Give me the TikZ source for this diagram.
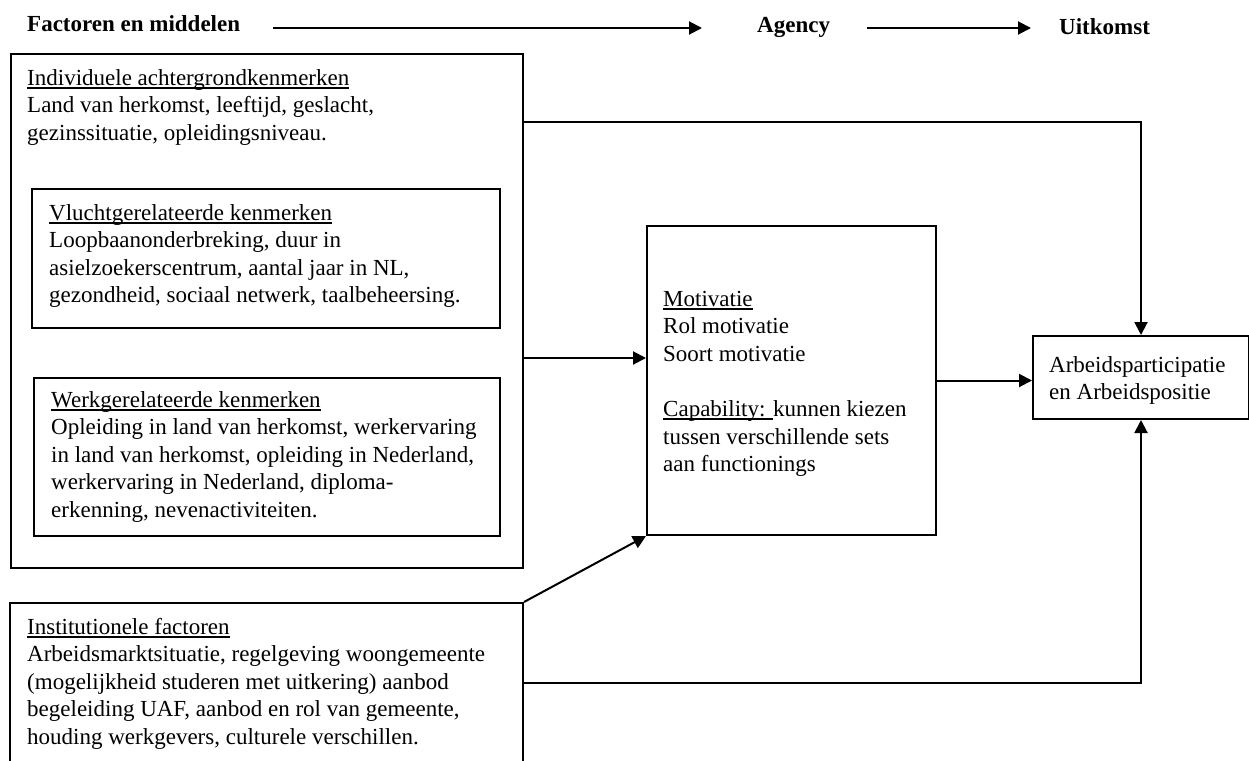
\documentclass[tikz,border=0pt]{standalone}
\usepackage{fontspec}
\setmainfont{Liberation Serif}
\usetikzlibrary{arrows.meta}
\newcommand\myul[1]{\setbox0\hbox{#1}\rlap{\rule[-3.5pt]{\wd0}{1.6pt}}\box0}
\tikzset{
  box/.style={draw, line width=2pt, inner sep=0pt, anchor=north west},
  txt/.style={anchor=base west, align=left, inner sep=0pt, font=\fontsize{23}{27.6}\selectfont},
  hdr/.style={anchor=base west, inner sep=0pt, font=\fontsize{23}{27.6}\selectfont\bfseries},
  arr/.style={line width=2pt, -{Triangle[length=13pt,width=13pt]}},
  ln/.style={line width=2pt}
}
\begin{document}
\begin{tikzpicture}[x=1pt,y=-1pt]
\useasboundingbox (0,0) rectangle (1249,760);
\clip (0,0) rectangle (1249,760);
% header
\node[hdr] (fac) at (27,32) {Factoren en middelen};
\node[hdr] (agc) at (757,33) {Agency};
\node[hdr] (uit) at (1059,35) {Uitkomst};
\coordinate (a1s) at (273,28);
\coordinate (a1e) at (702,28);
\coordinate (a2s) at (867,28);
\coordinate (a2e) at (1031,28);
\draw[arr] (a1s) -- (a1e);
\draw[arr] (a2s) -- (a2e);
% boxes
\node[box, minimum width=512pt, minimum height=514pt] (ind) at (10,53) {};
\node[box, minimum width=468pt, minimum height=139pt] (vl) at (31,188) {};
\node[box, minimum width=466pt, minimum height=158pt] (wk) at (33,377) {};
\node[box, minimum width=289pt, minimum height=309pt] (mot) at (646,225) {};
\node[box, minimum width=216pt, minimum height=83pt] (arb) at (1032,335) {};
\node[box, minimum width=513pt, minimum height=190pt] (ins) at (9,602) {};
% texts (anchored at the baseline of their last line)
\node[txt] (indt) at (27,140.2) {\myul{Individuele achtergrondkenmerken}\\Land van herkomst, leeftijd, geslacht,\\gezinssituatie, opleidingsniveau.};
\node[txt] (vlt) at (49,302.8) {\myul{Vluchtgerelateerde kenmerken}\\Loopbaanonderbreking, duur in\\asielzoekerscentrum, aantal jaar in NL,\\gezondheid, sociaal netwerk, taalbeheersing.};
\node[txt] (wkt) at (51,517.4) {\myul{Werkgerelateerde kenmerken}\\Opleiding in land van herkomst, werkervaring\\in land van herkomst, opleiding in Nederland,\\werkervaring in Nederland, diploma-\\erkenning, nevenactiviteiten.};
\node[txt] (mott) at (663,471.6) {\myul{Motivatie}\\Rol motivatie\\Soort motivatie\\[27.6pt]\myul{Capability: }kunnen kiezen\\tussen verschillende sets\\aan functionings};
\node[txt] (arbt) at (1049,399.6) {Arbeidsparticipatie\\en Arbeidspositie};
\node[txt] (inst) at (27,744.4) {\myul{Institutionele factoren}\\Arbeidsmarktsituatie, regelgeving woongemeente\\(mogelijkheid studeren met uitkering) aanbod\\begeleiding UAF, aanbod en rol van gemeente,\\houding werkgevers, culturele verschillen.};
% connectors
\coordinate (y1) at (0,122);
\coordinate (y2) at (0,358);
\coordinate (y3) at (0,683);
\draw[arr] (ind.east |- y1) -| (arb.north);
\draw[arr] (ind.east |- y2) -- (mot.west |- y2);
\draw[arr] (mot.east) -- (mot.east -| arb.west);
\draw[arr] (ins.north east) -- (mot.south west);
\draw[arr] (ins.east |- y3) -| (arb.south);
\end{tikzpicture}
\end{document}
